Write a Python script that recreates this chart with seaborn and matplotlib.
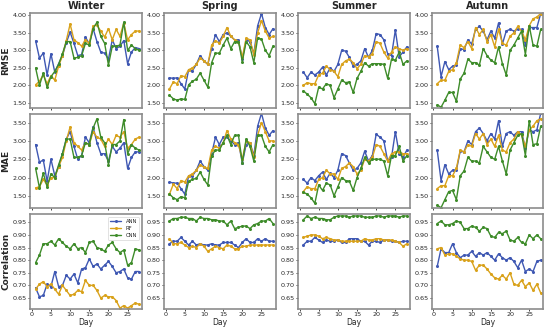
import numpy as np
import pandas as pd
import matplotlib
matplotlib.use("Agg")
import matplotlib.pyplot as plt
import seaborn as sns

days = list(range(1, 29))
seasons = ["Winter", "Spring", "Summer", "Autumn"]
metrics = ["RMSE", "MAE", "Correlation"]
models = ["ANN", "RF", "CNN"]

# RMSE
winter_rmse_ann = [3.27, 2.78, 2.92, 2.30, 2.90, 2.38, 2.62, 2.85, 3.22, 3.52, 3.20, 2.85, 2.88, 3.38, 3.18, 3.62, 3.25, 2.95, 2.92, 2.75, 3.30, 3.05, 3.12, 3.28, 2.62, 2.95, 3.08, 3.05]
winter_rmse_rf = [2.02, 2.12, 2.30, 2.05, 2.28, 2.15, 2.55, 2.85, 3.28, 3.75, 3.30, 3.22, 3.12, 3.30, 3.20, 3.70, 3.72, 3.55, 3.38, 3.62, 3.30, 3.60, 3.40, 3.78, 3.30, 3.45, 3.55, 3.55]
winter_rmse_cnn = [2.50, 2.00, 2.35, 1.95, 2.25, 2.40, 2.60, 2.90, 3.25, 3.25, 2.78, 2.80, 2.85, 3.20, 3.15, 3.62, 3.80, 3.40, 3.20, 2.58, 3.12, 3.12, 3.15, 3.80, 3.00, 3.15, 3.05, 3.00]
spring_rmse_ann = [2.22, 2.20, 2.22, 2.05, 1.90, 2.45, 2.42, 2.60, 2.85, 2.70, 2.60, 3.05, 3.45, 3.25, 3.45, 3.50, 3.40, 3.30, 3.30, 2.75, 3.30, 3.25, 2.90, 3.70, 4.05, 3.65, 3.45, 3.62]
spring_rmse_rf = [1.90, 2.10, 2.05, 2.28, 2.25, 2.45, 2.50, 2.60, 2.78, 2.70, 2.60, 3.15, 3.28, 3.20, 3.40, 3.65, 3.40, 3.30, 3.25, 2.80, 3.35, 3.30, 2.88, 3.50, 3.85, 3.55, 3.35, 3.40]
spring_rmse_cnn = [1.72, 1.62, 1.58, 1.62, 1.60, 2.02, 2.12, 2.18, 2.35, 2.15, 1.95, 2.65, 2.92, 2.92, 3.15, 3.35, 3.05, 3.25, 3.25, 2.68, 3.25, 3.10, 2.65, 3.35, 3.32, 3.00, 2.85, 3.12]
summer_rmse_ann = [2.38, 2.22, 2.38, 2.30, 2.38, 2.52, 2.30, 2.50, 2.40, 2.60, 3.00, 2.98, 2.80, 2.55, 2.60, 2.70, 3.05, 2.80, 3.00, 3.48, 3.45, 3.30, 2.90, 2.85, 3.58, 2.82, 2.95, 3.10]
summer_rmse_rf = [2.00, 2.08, 2.05, 2.05, 2.30, 2.35, 2.55, 2.45, 2.40, 2.25, 2.60, 2.70, 2.75, 2.65, 2.48, 2.60, 2.85, 2.82, 2.90, 3.25, 3.20, 2.95, 2.78, 2.95, 3.10, 3.05, 3.00, 3.05]
summer_rmse_cnn = [1.85, 1.75, 1.65, 1.48, 1.95, 1.90, 2.05, 2.00, 1.65, 1.90, 2.15, 2.08, 2.10, 1.80, 2.20, 2.40, 2.65, 2.55, 2.62, 2.62, 2.62, 2.60, 2.20, 2.75, 2.72, 2.95, 2.60, 2.70]
autumn_rmse_ann = [3.12, 2.25, 2.68, 2.45, 2.55, 2.58, 3.05, 3.02, 3.30, 3.18, 3.60, 3.68, 3.55, 3.30, 3.55, 3.35, 3.78, 3.18, 3.55, 3.60, 3.55, 3.60, 3.60, 3.15, 3.65, 3.65, 3.65, 4.05]
autumn_rmse_rf = [2.05, 2.15, 2.15, 2.40, 2.45, 2.65, 3.15, 3.08, 3.25, 3.05, 3.65, 3.45, 3.60, 3.25, 3.45, 3.10, 3.60, 3.20, 3.15, 3.40, 3.50, 3.68, 3.55, 3.30, 3.70, 3.90, 3.95, 4.05]
autumn_rmse_cnn = [1.45, 1.38, 1.58, 1.80, 1.80, 1.55, 2.18, 2.35, 2.75, 2.65, 2.65, 2.58, 3.05, 2.85, 2.72, 2.65, 3.10, 2.62, 2.30, 3.00, 3.15, 3.35, 3.55, 2.88, 3.70, 3.15, 3.12, 3.60]

# MAE
winter_mae_ann = [2.90, 2.42, 2.48, 1.90, 2.50, 2.05, 2.30, 2.65, 3.05, 3.25, 2.85, 2.50, 2.60, 3.10, 2.95, 3.38, 2.95, 2.65, 2.65, 2.45, 2.85, 2.70, 2.80, 2.95, 2.25, 2.55, 2.70, 2.70]
winter_mae_rf = [1.72, 1.75, 1.95, 1.80, 2.00, 2.00, 2.30, 2.55, 3.00, 3.38, 2.95, 2.85, 2.75, 2.95, 2.90, 3.25, 3.10, 3.05, 2.85, 3.05, 2.90, 3.15, 3.10, 3.25, 2.80, 2.90, 3.05, 3.10]
winter_mae_cnn = [2.25, 1.72, 2.12, 1.75, 2.10, 2.00, 2.35, 2.65, 3.05, 3.05, 2.55, 2.55, 2.60, 2.95, 2.90, 3.35, 3.60, 3.10, 2.95, 2.35, 2.90, 2.90, 3.00, 3.58, 2.65, 2.90, 2.80, 2.75]
spring_mae_ann = [1.88, 1.85, 1.85, 1.70, 1.55, 2.05, 2.05, 2.20, 2.45, 2.30, 2.20, 2.65, 3.10, 2.90, 3.10, 3.10, 3.00, 2.90, 2.95, 2.40, 2.90, 2.95, 2.60, 3.40, 3.75, 3.35, 3.15, 3.28]
spring_mae_rf = [1.55, 1.82, 1.70, 1.92, 1.88, 2.05, 2.10, 2.20, 2.35, 2.28, 2.25, 2.75, 2.85, 2.80, 2.95, 3.28, 3.05, 2.95, 2.90, 2.50, 3.00, 2.95, 2.55, 3.15, 3.50, 3.25, 3.00, 3.00]
spring_mae_cnn = [1.55, 1.45, 1.40, 1.48, 1.45, 1.90, 1.95, 1.98, 2.15, 1.95, 1.80, 2.60, 2.75, 2.75, 2.95, 3.15, 2.90, 3.15, 3.15, 2.40, 3.05, 2.85, 2.45, 3.15, 3.15, 2.85, 2.70, 2.90]
summer_mae_ann = [1.95, 1.85, 2.00, 1.92, 2.05, 2.15, 1.95, 2.12, 2.00, 2.20, 2.65, 2.60, 2.40, 2.20, 2.25, 2.40, 2.72, 2.45, 2.60, 3.18, 3.10, 3.00, 2.45, 2.55, 3.25, 2.65, 2.55, 2.75]
summer_mae_rf = [1.62, 1.75, 1.70, 1.70, 1.95, 2.00, 2.20, 2.10, 2.10, 1.95, 2.25, 2.30, 2.40, 2.30, 2.10, 2.20, 2.50, 2.45, 2.55, 2.90, 2.85, 2.65, 2.45, 2.65, 2.70, 2.70, 2.65, 2.65]
summer_mae_cnn = [1.60, 1.55, 1.45, 1.30, 1.80, 1.65, 1.85, 1.80, 1.50, 1.75, 2.00, 1.92, 1.90, 1.65, 2.00, 2.25, 2.55, 2.40, 2.50, 2.50, 2.50, 2.45, 2.05, 2.60, 2.60, 2.85, 2.45, 2.60]
autumn_mae_ann = [2.75, 1.92, 2.35, 2.10, 2.20, 2.20, 2.72, 2.70, 3.00, 2.90, 3.25, 3.35, 3.20, 3.00, 3.20, 3.05, 3.55, 2.85, 3.20, 3.25, 3.15, 3.25, 3.25, 2.80, 3.30, 3.25, 3.30, 3.75]
autumn_mae_rf = [1.70, 1.78, 1.78, 2.05, 2.05, 2.25, 2.75, 2.70, 2.90, 2.85, 3.20, 3.05, 3.20, 2.90, 3.05, 2.85, 3.15, 2.75, 2.70, 2.95, 3.05, 3.25, 3.15, 2.85, 3.30, 3.40, 3.55, 3.60]
autumn_mae_cnn = [1.25, 1.18, 1.40, 1.62, 1.65, 1.40, 2.05, 2.18, 2.55, 2.45, 2.45, 2.40, 2.85, 2.70, 2.55, 2.50, 2.85, 2.45, 2.10, 2.75, 2.95, 3.15, 3.20, 2.60, 3.55, 2.90, 2.92, 3.40]

# Correlation
winter_corr_ann = [0.690, 0.655, 0.660, 0.705, 0.695, 0.755, 0.695, 0.700, 0.740, 0.725, 0.745, 0.710, 0.765, 0.770, 0.805, 0.775, 0.785, 0.765, 0.780, 0.795, 0.775, 0.750, 0.755, 0.765, 0.730, 0.725, 0.755, 0.755]
winter_corr_rf = [0.685, 0.705, 0.715, 0.695, 0.705, 0.685, 0.665, 0.700, 0.680, 0.660, 0.665, 0.680, 0.675, 0.720, 0.700, 0.700, 0.680, 0.650, 0.660, 0.655, 0.655, 0.640, 0.610, 0.620, 0.610, 0.620, 0.630, 0.625]
winter_corr_cnn = [0.790, 0.820, 0.865, 0.865, 0.875, 0.860, 0.885, 0.870, 0.855, 0.845, 0.865, 0.845, 0.850, 0.830, 0.870, 0.875, 0.850, 0.845, 0.835, 0.860, 0.870, 0.845, 0.830, 0.840, 0.780, 0.790, 0.845, 0.840]
spring_corr_ann = [0.865, 0.875, 0.875, 0.890, 0.875, 0.860, 0.875, 0.860, 0.865, 0.860, 0.860, 0.865, 0.860, 0.860, 0.870, 0.870, 0.870, 0.860, 0.850, 0.870, 0.885, 0.870, 0.870, 0.885, 0.875, 0.885, 0.875, 0.875]
spring_corr_rf = [0.885, 0.865, 0.865, 0.870, 0.860, 0.850, 0.855, 0.850, 0.865, 0.855, 0.835, 0.845, 0.855, 0.850, 0.845, 0.860, 0.855, 0.845, 0.845, 0.855, 0.855, 0.860, 0.860, 0.860, 0.860, 0.860, 0.860, 0.860]
spring_corr_cnn = [0.955, 0.965, 0.965, 0.970, 0.970, 0.965, 0.965, 0.955, 0.970, 0.965, 0.965, 0.960, 0.960, 0.955, 0.955, 0.940, 0.955, 0.925, 0.930, 0.935, 0.935, 0.925, 0.940, 0.945, 0.955, 0.955, 0.965, 0.945]
summer_corr_ann = [0.860, 0.875, 0.875, 0.890, 0.880, 0.870, 0.880, 0.875, 0.875, 0.880, 0.870, 0.870, 0.885, 0.885, 0.885, 0.875, 0.875, 0.860, 0.875, 0.875, 0.870, 0.880, 0.880, 0.875, 0.875, 0.870, 0.875, 0.875]
summer_corr_rf = [0.890, 0.895, 0.900, 0.900, 0.895, 0.885, 0.890, 0.885, 0.880, 0.880, 0.875, 0.875, 0.875, 0.875, 0.875, 0.875, 0.885, 0.880, 0.880, 0.885, 0.885, 0.880, 0.880, 0.880, 0.875, 0.870, 0.855, 0.865]
summer_corr_cnn = [0.960, 0.975, 0.965, 0.970, 0.965, 0.965, 0.960, 0.960, 0.970, 0.975, 0.975, 0.975, 0.970, 0.975, 0.975, 0.975, 0.970, 0.970, 0.970, 0.975, 0.975, 0.970, 0.975, 0.975, 0.975, 0.970, 0.975, 0.975]
autumn_corr_ann = [0.775, 0.845, 0.830, 0.830, 0.865, 0.830, 0.810, 0.820, 0.820, 0.835, 0.815, 0.830, 0.820, 0.830, 0.815, 0.800, 0.825, 0.810, 0.800, 0.810, 0.795, 0.770, 0.800, 0.755, 0.765, 0.755, 0.795, 0.800]
autumn_corr_rf = [0.845, 0.850, 0.820, 0.825, 0.825, 0.815, 0.805, 0.800, 0.800, 0.795, 0.760, 0.780, 0.780, 0.765, 0.745, 0.730, 0.725, 0.740, 0.725, 0.750, 0.705, 0.700, 0.720, 0.695, 0.710, 0.680, 0.705, 0.670]
autumn_corr_cnn = [0.945, 0.955, 0.940, 0.940, 0.945, 0.955, 0.950, 0.925, 0.925, 0.935, 0.930, 0.915, 0.930, 0.925, 0.895, 0.890, 0.910, 0.905, 0.915, 0.880, 0.875, 0.890, 0.870, 0.865, 0.900, 0.885, 0.900, 0.885]

series = {
    ("RMSE", "Winter"): [winter_rmse_ann, winter_rmse_rf, winter_rmse_cnn],
    ("RMSE", "Spring"): [spring_rmse_ann, spring_rmse_rf, spring_rmse_cnn],
    ("RMSE", "Summer"): [summer_rmse_ann, summer_rmse_rf, summer_rmse_cnn],
    ("RMSE", "Autumn"): [autumn_rmse_ann, autumn_rmse_rf, autumn_rmse_cnn],
    ("MAE", "Winter"): [winter_mae_ann, winter_mae_rf, winter_mae_cnn],
    ("MAE", "Spring"): [spring_mae_ann, spring_mae_rf, spring_mae_cnn],
    ("MAE", "Summer"): [summer_mae_ann, summer_mae_rf, summer_mae_cnn],
    ("MAE", "Autumn"): [autumn_mae_ann, autumn_mae_rf, autumn_mae_cnn],
    ("Correlation", "Winter"): [winter_corr_ann, winter_corr_rf, winter_corr_cnn],
    ("Correlation", "Spring"): [spring_corr_ann, spring_corr_rf, spring_corr_cnn],
    ("Correlation", "Summer"): [summer_corr_ann, summer_corr_rf, summer_corr_cnn],
    ("Correlation", "Autumn"): [autumn_corr_ann, autumn_corr_rf, autumn_corr_cnn],
}

rows = []
for (metric, season), vals in series.items():
    for model, v in zip(models, vals):
        for d, y in zip(days, v):
            rows.append({"metric": metric, "season": season, "model": model, "Day": d, "value": y})
df = pd.DataFrame(rows)

palette = {"ANN": "#3f58b3", "RF": "#d9a21b", "CNN": "#3e8c2a"}
ylims = {"RMSE": (1.37, 4.06), "MAE": (1.17, 3.74), "Correlation": (0.608, 0.982)}
yticks = {"RMSE": np.arange(1.5, 4.01, 0.5), "MAE": np.arange(1.5, 3.51, 0.5),
          "Correlation": np.arange(0.65, 0.951, 0.05)}

sns.set_style("white")
plt.rcParams["font.family"] = ["DejaVu Sans"]

fig, axes = plt.subplots(3, 4, figsize=(5.5, 3.29), dpi=100, sharex=True)
fig.subplots_adjust(left=0.055, right=0.988, top=0.96, bottom=0.062, wspace=0.2, hspace=0.065)

for i, metric in enumerate(metrics):
    for j, season in enumerate(seasons):
        ax = axes[i, j]
        sub = df[(df.metric == metric) & (df.season == season)]
        sns.lineplot(data=sub, x="Day", y="value", hue="model", hue_order=models,
                     palette=palette, marker="o", markersize=2.2, markeredgewidth=0,
                     linewidth=1.0, ax=ax, legend=(i == 2 and j == 0))
        ax.set_ylim(*ylims[metric])
        ax.set_yticks(yticks[metric])
        ax.yaxis.set_major_formatter(matplotlib.ticker.FormatStrFormatter("%.2f"))
        ax.set_xlim(-0.4, 28.7)
        ax.set_xticks([0, 5, 10, 15, 20, 25])
        ax.tick_params(axis="both", labelsize=4.6, length=1.5, width=0.6, pad=1,
                       bottom=True, left=True)
        for sp in ax.spines.values():
            sp.set_color("#8c8c8c")
            sp.set_linewidth(1.2)
        ax.set_xlabel("Day" if i == 2 else "", fontsize=5.5, labelpad=0.5)
        if j == 0:
            ax.set_ylabel(metric, fontsize=6.5, fontweight="bold", labelpad=1.5)
        else:
            ax.set_ylabel("")
        if i == 0:
            ax.set_title(season, fontsize=7, fontweight="bold", pad=3)

leg = axes[2, 0].legend(loc="upper right", fontsize=3.8, frameon=True,
                        handlelength=2.2, borderpad=0.4, labelspacing=0.4)
leg.get_frame().set_linewidth(0.5)

fig.savefig("out.png", dpi=100)
